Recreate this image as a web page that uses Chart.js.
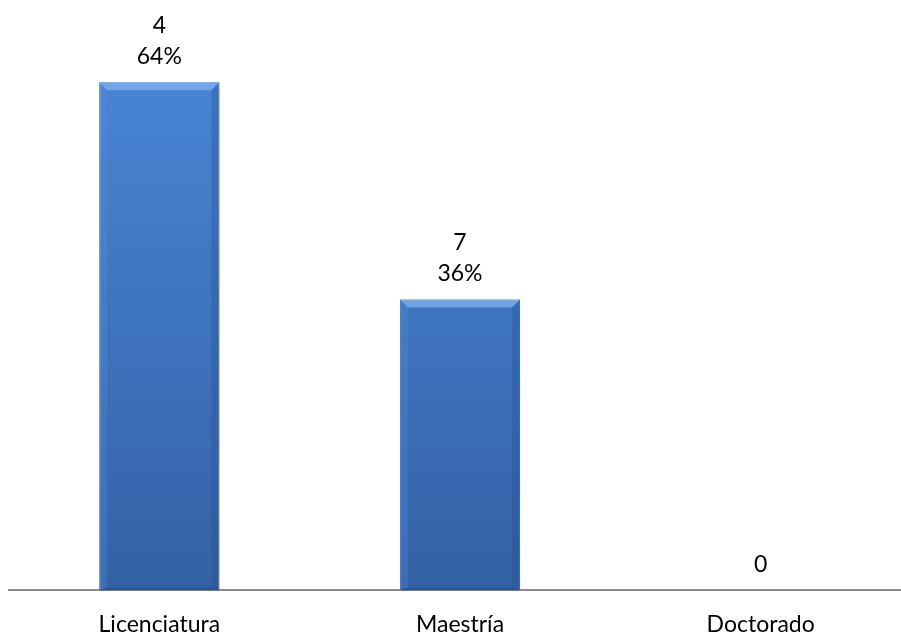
<!DOCTYPE html>
<html>
<head>
<meta charset="utf-8">
<script src="https://cdn.jsdelivr.net/npm/chart.js@4"></script>
<style>
html,body{margin:0;padding:0;background:#fff;overflow:hidden;}
#wrap{width:911px;height:658px;}
</style>
</head>
<body>
<div id="wrap"><canvas id="c" width="911" height="658"></canvas></div>
<script>
const categories = ['Licenciatura', 'Maestría', 'Doctorado'];
const values = [63.6, 36.4, 0];
const countLabels = ['4', '7', '0'];
const pctLabels = ['64%', '36%', ''];

const FONT = 'Lato, "Open Sans", sans-serif';

const labelPlugin = {
  id: 'barLabels',
  afterDatasetsDraw(chart) {
    const ctx = chart.ctx;
    const meta = chart.getDatasetMeta(0);
    ctx.save();
    ctx.fillStyle = '#000';
    ctx.font = '23px ' + FONT;
    ctx.textAlign = 'center';
    ctx.textBaseline = 'middle';
    meta.data.forEach((bar, i) => {
      const x = bar.x, top = bar.y;
      if (pctLabels[i]) {
        ctx.fillText(pctLabels[i], x, top - 26);
        ctx.fillText(countLabels[i], x, top - 57);
      } else {
        ctx.fillText(countLabels[i], x, top - 26);
      }
    });
    ctx.restore();
  }
};

const bevelPlugin = {
  id: 'bevel',
  afterDatasetDraw(chart) {
    const ctx = chart.ctx;
    const meta = chart.getDatasetMeta(0);
    ctx.save();
    meta.data.forEach((bar) => {
      const h = bar.base - bar.y;
      if (h < 2) return;
      const l = bar.x - bar.width / 2, r = bar.x + bar.width / 2;
      const t = bar.y, b = bar.base, d = 8;
      ctx.fillStyle = 'rgba(125,175,238,0.8)';
      ctx.beginPath();
      ctx.moveTo(l, t); ctx.lineTo(r, t); ctx.lineTo(r - d, t + d); ctx.lineTo(l + d, t + d); ctx.closePath();
      ctx.fill();
      ctx.fillStyle = 'rgba(90,140,210,0.3)';
      ctx.beginPath();
      ctx.moveTo(l, t); ctx.lineTo(l + d, t + d); ctx.lineTo(l + d, b - 3); ctx.lineTo(l, b); ctx.closePath();
      ctx.fill();
      ctx.fillStyle = 'rgba(35,75,135,0.3)';
      ctx.beginPath();
      ctx.moveTo(r, t); ctx.lineTo(r - d, t + d); ctx.lineTo(r - d, b - 3); ctx.lineTo(r, b); ctx.closePath();
      ctx.fill();
      ctx.fillStyle = 'rgba(30,60,110,0.35)';
      ctx.beginPath();
      ctx.moveTo(l, b); ctx.lineTo(l + d, b - 3); ctx.lineTo(r - d, b - 3); ctx.lineTo(r, b); ctx.closePath();
      ctx.fill();
    });
    ctx.restore();
  }
};

function barGradient(context) {
  const chart = context.chart;
  const area = chart.chartArea;
  if (!area) return '#3F78C4';
  const g = chart.ctx.createLinearGradient(0, area.top, 0, area.bottom);
  g.addColorStop(0, '#4A88D8');
  g.addColorStop(1, '#3461A6');
  return g;
}

new Chart(document.getElementById('c'), {
  type: 'bar',
  data: {
    labels: categories,
    datasets: [{
      data: values,
      backgroundColor: barGradient,
      borderColor: '#3A6AAE',
      borderWidth: 1,
      barPercentage: 0.4,
      categoryPercentage: 1.0
    }]
  },
  options: {
    responsive: false,
    animation: false,
    events: [],
    layout: { padding: { left: 9, right: 0, top: 31, bottom: 0 } },
    plugins: { legend: { display: false }, tooltip: { enabled: false } },
    scales: {
      x: {
        grid: { display: false, drawTicks: false },
        border: { display: true, color: '#8C8C8C', width: 2 },
        ticks: { color: '#000', font: { family: FONT, size: 23 }, padding: 20, maxRotation: 0 }
      },
      y: {
        display: false,
        min: 0,
        max: 70
      }
    }
  },
  plugins: [bevelPlugin, labelPlugin]
});
</script>
</body>
</html>
